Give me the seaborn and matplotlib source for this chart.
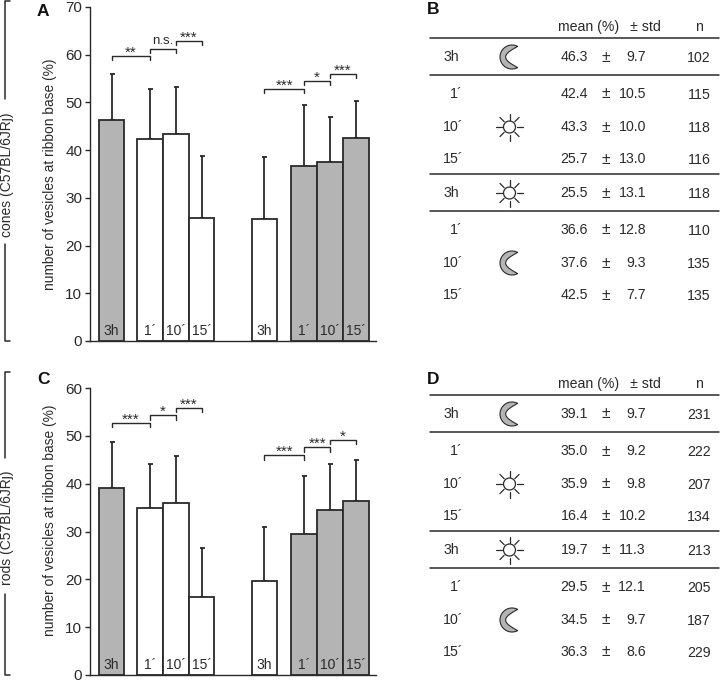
import numpy as np
import pandas as pd
import matplotlib
matplotlib.use("Agg")
import matplotlib.pyplot as plt
from matplotlib.patches import Polygon, Circle
import seaborn as sns

sns.set_style("ticks")
plt.rcParams['font.family'] = ['Liberation Sans', 'DejaVu Sans']

# values from the tables
stages = ["3h", "1´", "10´", "15´", "3h", "1´", "10´", "15´"]
dark_adapted = [True, False, False, False, False, True, True, True]

cones_mean = [46.3, 42.4, 43.3, 25.7, 25.5, 36.6, 37.6, 42.5]
cones_std = [9.7, 10.5, 10.0, 13.0, 13.1, 12.8, 9.3, 7.7]
cones_n = [102, 115, 118, 116, 118, 110, 135, 135]

rods_mean = [39.1, 35.0, 35.9, 16.4, 19.7, 29.5, 34.5, 36.3]
rods_std = [9.7, 9.2, 9.8, 10.2, 11.3, 12.1, 9.7, 8.6]
rods_n = [231, 222, 207, 134, 213, 205, 187, 229]

cones_sig = ["**", "n.s.", "***", "***", "*", "***"]
rods_sig = ["***", "*", "***", "***", "***", "*"]
cones_sig_y = [59.7, 61.2, 62.9, 52.9, 54.5, 56.0]
rods_sig_y = [52.7, 54.3, 55.9, 45.9, 47.6, 49.1]

# layout stuff
slots = [0, 1.5, 2.5, 3.5, 5.95, 7.5, 8.5, 9.5]
pairs = [(0, 1), (1, 2), (2, 3), (4, 5), (5, 6), (6, 7)]
GREY = "#b4b4b4"
INK = "#2a2a2a"


def draw_bars(ax, means, stds, ymax, step, sig, sig_y, label_y):
    df = pd.DataFrame({"slot": slots, "mean": means,
                       "dark": ["d" if d else "l" for d in dark_adapted]})
    sns.barplot(data=df, x="slot", y="mean", hue="dark", palette={"d": GREY, "l": "white"},
                native_scale=True, width=1, dodge=False, errorbar=None, legend=False,
                edgecolor=INK, linewidth=1.3, ax=ax, zorder=2)
    ax.errorbar(slots, means, yerr=[np.zeros(8), stds], fmt="none", ecolor=INK,
                elinewidth=1.3, capsize=1.8, capthick=1.3, zorder=1)
    ax.set_xlim(-0.84, 10.29)
    ax.set_ylim(0, ymax)
    ax.set_yticks(np.arange(0, ymax + 1, step))
    ax.set_xticks([])
    ax.set_xlabel("")
    ax.set_ylabel("number of vesicles at ribbon base (%)", fontsize=9.95, color=INK)
    ax.yaxis.set_label_coords(-0.115, label_y)
    ax.tick_params(axis="y", labelsize=11, length=3.6, width=1, colors=INK, pad=2)
    sns.despine(ax=ax)
    for s in ("left", "bottom"):
        ax.spines[s].set_color(INK)
        ax.spines[s].set_linewidth(1.0)
    for x, lab in zip(slots, stages):
        ax.text(x, 0.6, lab, ha="center", va="bottom", fontsize=10, color=INK, zorder=3)
    # significance brackets
    for (i, j), txt, y in zip(pairs, sig, sig_y):
        x0, x1 = slots[i], slots[j]
        ax.plot([x0, x0, x1, x1], [y - 0.9, y, y, y - 0.9], color=INK, lw=1.0,
                clip_on=False, zorder=3)
        if txt == "n.s.":
            ax.text((x0 + x1) / 2, y + 0.5, txt, ha="center", va="bottom",
                    fontsize=9.5, color=INK)
        else:
            ax.text((x0 + x1) / 2, y - 0.8, txt, ha="center", va="bottom",
                    fontsize=11, color=INK)


def moon(ov, cx, cy, r=12):
    a = np.radians(np.linspace(62, 298, 50))
    outer = np.c_[cx + r * np.cos(a), cy - r * np.sin(a)]
    tip_a, tip_b = outer[0], outer[-1]
    # inner arc goes back between the tips
    t = np.linspace(0, 1, 30)
    inner_x = tip_b[0] + (tip_a[0] - tip_b[0]) * t - 12 * np.sin(np.pi * t)
    inner_y = tip_b[1] + (tip_a[1] - tip_b[1]) * t
    pts = np.vstack([outer, np.c_[inner_x, inner_y]])
    ov.add_patch(Polygon(pts, closed=True, facecolor=GREY, edgecolor=INK, lw=0.8))


def sun(ov, cx, cy):
    ov.add_patch(Circle((cx, cy), 6, facecolor="white", edgecolor=INK, lw=0.9))
    for ang in np.radians(np.arange(0, 360, 45)):
        ov.plot([cx + 7.5 * np.cos(ang), cx + 13.5 * np.cos(ang)],
                [cy + 7.5 * np.sin(ang), cy + 13.5 * np.sin(ang)], color=INK, lw=0.9)


def draw_table(ov, y0, means, stds, ns):
    # y0 = y of header text, everything else is relative to it
    rows = [30, 67, 100, 132, 166, 203, 236, 268]
    rules = [11, 48, 147, 184]
    fs = 10.2
    ov.text(558, y0, "mean (%)", ha="left", va="center", fontsize=fs, color=INK)
    ov.text(630, y0, "± std", ha="left", va="center", fontsize=fs, color=INK)
    ov.text(699, y0, "n", ha="center", va="center", fontsize=fs, color=INK)
    for r in rules:
        ov.plot([430, 719], [y0 + r, y0 + r], color=INK, lw=1.1)
    for dy, lab, m, s, n in zip(rows, stages, means, stds, ns):
        y = y0 + dy
        lab_x = 459 if lab == "3h" else 463
        ov.text(lab_x, y, lab, ha="right", va="center", fontsize=fs, color=INK)
        ov.text(588, y, f"{m:.1f}", ha="right", va="center", fontsize=fs, color=INK)
        ov.text(606, y, "±", ha="center", va="center", fontsize=fs + 1, color=INK)
        ov.text(646, y, f"{s:.1f}", ha="right", va="center", fontsize=fs, color=INK)
        ov.text(699, y + 1, str(n), ha="center", va="center", fontsize=fs, color=INK)
    moon(ov, 512, y0 + 30)
    sun(ov, 509.5, y0 + 100)
    sun(ov, 509.5, y0 + 166)
    moon(ov, 512, y0 + 236)


def side_bracket(ov, top, bottom, gap0, gap1, text_y, label):
    ov.plot([10, 5, 5], [top, top, gap0], color=INK, lw=1.1)
    ov.plot([5, 5, 10], [gap1, bottom, bottom], color=INK, lw=1.1)
    ov.text(7, text_y, label, rotation=90, ha="center", va="center",
            fontsize=10, color=INK)


W, H = 720, 681
fig = plt.figure(figsize=(W / 100, H / 100), dpi=100)


def px_axes(left, right, top, bottom):
    return fig.add_axes([left / W, 1 - bottom / H, (right - left) / W, (bottom - top) / H])


ax_a = px_axes(90, 376, 7, 341)
ax_c = px_axes(90, 376, 388, 675)
draw_bars(ax_a, cones_mean, cones_std, 70, 10, cones_sig, cones_sig_y, 0.5)
draw_bars(ax_c, rods_mean, rods_std, 60, 10, rods_sig, rods_sig_y, 0.54)

# overlay in pixel units for tables, brackets, panel letters
ov = fig.add_axes([0, 0, 1, 1], zorder=5)
ov.set_xlim(0, W)
ov.set_ylim(H, 0)
ov.axis("off")
ov.patch.set_alpha(0)

draw_table(ov, 27, cones_mean, cones_std, cones_n)
draw_table(ov, 384, rods_mean, rods_std, rods_n)
side_bracket(ov, 1, 341, 99, 244, 175, "cones (C57BL/6JRj)")
side_bracket(ov, 372, 675, 458, 594, 528, "rods (C57BL/6JRj)")

for lab, x, y in [("A", 43, 11), ("B", 433, 9), ("C", 44, 380), ("D", 433, 380)]:
    ov.text(x, y, lab, ha="center", va="center", fontsize=12.5, fontweight="bold", color="#111111")

fig.savefig("out.png", dpi=100)
